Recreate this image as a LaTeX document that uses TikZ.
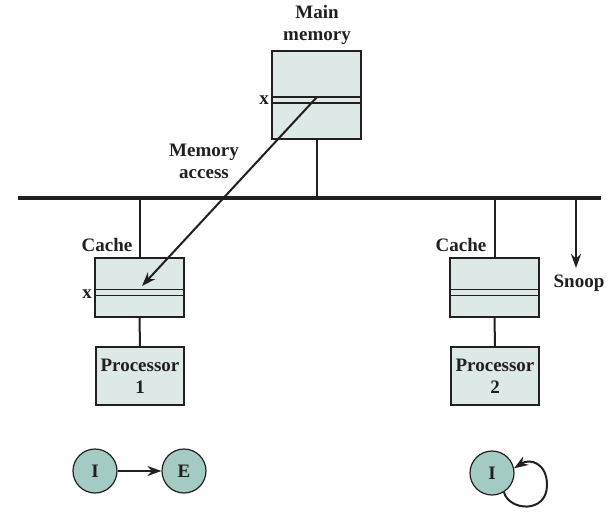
\documentclass[tikz,border=0pt]{standalone}
\usepackage{fontspec}
\setmainfont{Liberation Serif}
\usetikzlibrary{arrows.meta,calc}
\definecolor{ink}{HTML}{231F20}
\definecolor{boxfill}{HTML}{DDE9E7}
\definecolor{statefill}{HTML}{A3CBC3}
\begin{document}
\begin{tikzpicture}[x=1pt,y=1pt,
  every node/.style={text=ink,font=\fontsize{19}{22}\selectfont\bfseries},
  membox/.style={draw=ink,fill=boxfill,line width=1.2pt,minimum width=89pt,inner sep=0pt},
  procbox/.style={draw=ink,fill=boxfill,line width=1.2pt,minimum width=88pt,minimum height=58pt,inner sep=0pt,align=center},
  state/.style={circle,draw=ink,fill=statefill,line width=1.2pt,minimum size=44pt,inner sep=0pt},
  conn/.style={draw=ink,line width=2pt},
  arr/.style={draw=ink,line width=2pt,-{Stealth[length=14pt,width=10pt]}},
  lbl/.style={inner sep=0pt,align=center}]
\useasboundingbox (0,0) rectangle (608,-515);
% bus
\coordinate (busL) at (18,-198);
\coordinate (busR) at (601,-198);
\draw[draw=ink,line width=4pt] (busL) -- (busR);
% main memory
\node[membox,minimum height=88pt] (mm) at (316.5,-95) {};
\draw[draw=ink,line width=1.2pt] (mm.west |- 0,-97) -- (mm.east |- 0,-97);
\draw[draw=ink,line width=1.2pt] (mm.west |- 0,-103) -- (mm.east |- 0,-103);
\node[lbl] (mmlbl) at (317,-25) {Main\\memory};
\node[lbl] (mmx) at (264,-100) {x};
\draw[conn] (mm.south) -- (mm.south |- busL);
% caches
\node[membox,minimum height=59pt] (c1) at (139.5,-287.5) {};
\node[membox,minimum height=59pt] (c2) at (494.5,-287.5) {};
\foreach \c in {c1,c2}{
  \draw[draw=ink,line width=1.2pt] (\c.west |- 0,-289.5) -- (\c.east |- 0,-289.5);
  \draw[draw=ink,line width=1.2pt] (\c.west |- 0,-295.5) -- (\c.east |- 0,-295.5);
}
\node[lbl] (c1lbl) at (107,-245) {Cache};
\node[lbl] (c2lbl) at (461,-245) {Cache};
\node[lbl] (c1x) at (87,-294) {x};
\draw[conn] (c1.north) -- (c1.north |- busL);
\draw[conn] (c2.north) -- (c2.north |- busL);
% processors
\node[procbox] (p1) at (140,-376) {Processor\\1};
\node[procbox] (p2) at (495,-376) {Processor\\2};
\draw[conn] (c1.south) -- (p1.north);
\draw[conn] (c2.south) -- (p2.north);
% snoop
\coordinate (snA) at (576,-198);
\coordinate (snB) at (576,-268);
\draw[arr] (snA) -- (snB);
\node[lbl] (snlbl) at (579,-283) {Snoop};
% memory access
\coordinate (mx) at (317,-97);
\coordinate (cx) at (142,-286);
\draw[arr] (mx) -- (cx);
\node[lbl] (malbl) at (204,-161) {Memory\\access};
% states
\node[state] (s1) at (95,-471) {I};
\node[state] (s2) at (184,-471) {E};
\node[state] (s3) at (492,-473) {I};
\draw[arr] (s1) -- (s2);
\coordinate (lp) at (547,-485);
\draw[arr] (s3.-58) .. controls (509,-511) and (547,-514) .. (lp)
  .. controls (547,-463) and (530,-458) .. (s3.12);
\end{tikzpicture}
\end{document}
